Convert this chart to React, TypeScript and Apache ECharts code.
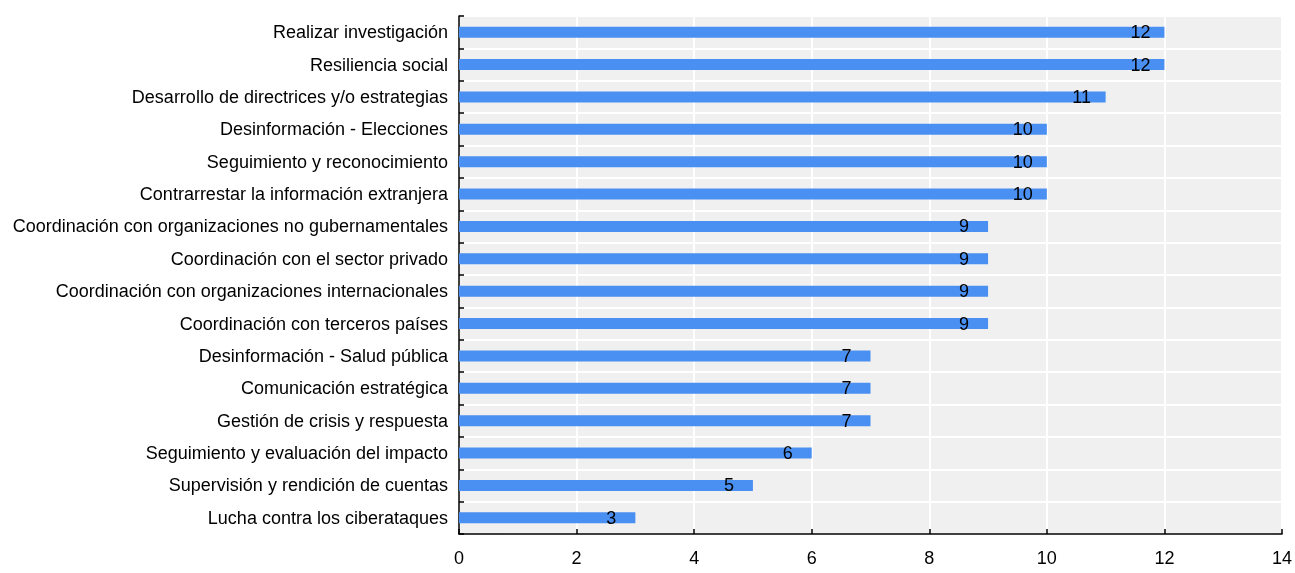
import React, { useEffect, useRef } from "react";
import * as echarts from "echarts";

const categories = [
  "Realizar investigación",
  "Resiliencia social",
  "Desarrollo de directrices y/o estrategias",
  "Desinformación - Elecciones",
  "Seguimiento y reconocimiento",
  "Contrarrestar la información extranjera",
  "Coordinación con organizaciones no gubernamentales",
  "Coordinación con el sector privado",
  "Coordinación con organizaciones internacionales",
  "Coordinación con terceros países",
  "Desinformación - Salud pública",
  "Comunicación estratégica",
  "Gestión de crisis y respuesta",
  "Seguimiento y evaluación del impacto",
  "Supervisión y rendición de cuentas",
  "Lucha contra los ciberataques",
];
const values = [12, 12, 11, 10, 10, 10, 9, 9, 9, 9, 7, 7, 7, 6, 5, 3];

export default function App() {
  const ref = useRef<HTMLDivElement>(null);
  useEffect(() => {
    if (!ref.current) return;
    const chart = echarts.init(ref.current, undefined, { renderer: "svg" });
    const font = "'Liberation Sans', Arial, sans-serif";
    chart.setOption({
      animation: false,
      grid: {
        left: 459,
        right: 10,
        top: 16,
        bottom: 39,
        show: true,
        backgroundColor: "#f0f0f0",
        borderWidth: 0,
      },
      xAxis: {
        type: "value",
        min: 0,
        max: 14,
        interval: 2,
        axisLine: { show: true, lineStyle: { color: "#000", width: 1.5 } },
        axisTick: { show: true, inside: true, length: 5, lineStyle: { color: "#000", width: 1.5 } },
        axisLabel: { color: "#000", fontSize: 18, fontFamily: font, margin: 15 },
        splitLine: { show: true, lineStyle: { color: "#fff", width: 2 } },
      },
      yAxis: {
        type: "category",
        data: categories,
        inverse: true,
        axisLine: { show: true, lineStyle: { color: "#000", width: 1.5 } },
        axisTick: { show: true, inside: true, length: 5, lineStyle: { color: "#000", width: 1.5 } },
        axisLabel: { color: "#000", fontSize: 18, fontFamily: font, margin: 11 },
        splitLine: { show: true, lineStyle: { color: "#fff", width: 2 } },
      },
      series: [
        {
          type: "bar",
          data: values,
          barWidth: 11,
          itemStyle: { color: "#4a90f2" },
          label: {
            show: true,
            position: "insideRight",
            distance: 24,
            align: "center",
            color: "#000",
            fontSize: 18,
            fontFamily: font,
          },
        },
      ],
    });
    return () => chart.dispose();
  }, []);
  return (
    <div
      ref={ref}
      style={{ position: "fixed", left: 0, top: 0, width: 1295, height: 573 }}
    />
  );
}
